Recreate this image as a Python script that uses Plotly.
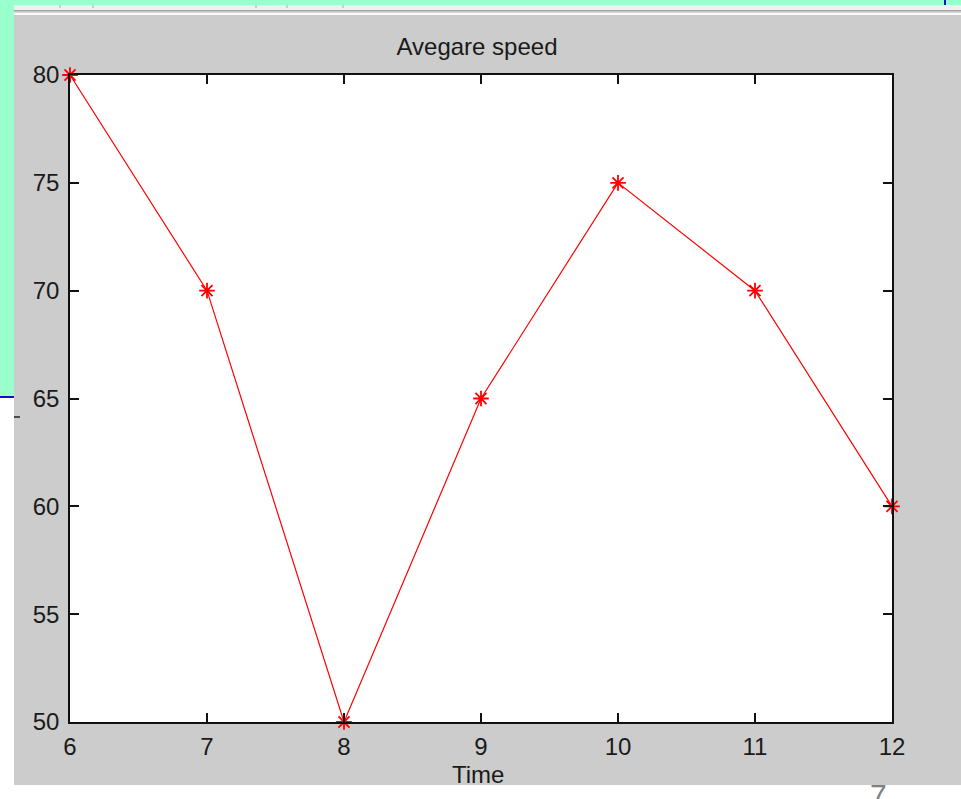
import plotly.graph_objects as go

# ---- data ----
time_vals = [6, 7, 8, 9, 10, 11, 12]
speed_vals = [80, 70, 50, 65, 75, 70, 60]
x_ticks = [6, 7, 8, 9, 10, 11, 12]
y_ticks = [50, 55, 60, 65, 70, 75, 80]
title_text = "Avegare speed"
xlabel_text = "Time"
slide_no = "7"

# ---- layout geometry (pixels) ----
FW, FH = 961, 799
L, R, T, B = 70, 892, 75, 722
W, H = R - L, B - T


def px(x):
    return (x - L) / W


def py(y):
    return (B - y) / H


def rect(x0, y0, x1, y1, color):
    return dict(type="rect", xref="paper", yref="paper",
                x0=px(x0), x1=px(x1), y0=py(y1), y1=py(y0),
                fillcolor=color, line=dict(width=0), layer="below")


def line(x0, y0, x1, y1, color, w=1):
    return dict(type="line", xref="paper", yref="paper",
                x0=px(x0), x1=px(x1), y0=py(y0), y1=py(y1),
                line=dict(color=color, width=w), layer="below")


shapes = [
    rect(0, 397, 14, FH, "#FFFFFF"),
    rect(0, 785, FW, FH, "#FFFFFF"),
    rect(14, 5, FW, 785, "#CCCCCC"),
    rect(14, 5, FW, 10, "#F0F0F0"),
    rect(14, 10, FW, 11.5, "#A0A0A0"),
    rect(14, 11.5, FW, 13, "#D8D8D8"),
    rect(14, 13, FW, 15, "#FAFAFA"),
    rect(L, T, R, B, "#FFFFFF"),
    line(0, 397, 14, 397, "#1010CC", 2),
    line(945, 0, 945, 5, "#1010CC", 2),
    line(14, 417, 20, 417, "#222222", 1.5),
]
for tx in [60, 93, 256, 287, 343]:
    shapes.append(line(tx, 5, tx, 8, "#AAAAAA", 1))

fig = go.Figure()
fig.add_trace(go.Scatter(
    x=time_vals, y=speed_vals, mode="lines+markers",
    line=dict(color="#FF0000", width=1.2),
    marker=dict(symbol="asterisk-open", size=13,
                line=dict(color="#FF0000", width=1.8)),
    cliponaxis=False, showlegend=False,
))

FONT = "Liberation Sans, Arial, sans-serif"
axis_font = dict(family=FONT, size=24, color="#1a1a1a")

fig.update_layout(
    width=FW, height=FH,
    margin=dict(l=L, r=FW - R, t=T, b=FH - B),
    paper_bgcolor="#99FFCC",
    plot_bgcolor="#FFFFFF",
    shapes=shapes,
    title=dict(text=title_text, x=px(477), xref="paper",
               y=1 - 47 / FH, yref="container", xanchor="center", yanchor="middle",
               font=dict(family=FONT, size=24, color="#1a1a1a")),
    xaxis=dict(range=[6, 12], tickvals=x_ticks, ticks="inside", ticklen=9,
               showline=True, mirror="ticks", linecolor="#111111", linewidth=1.5,
               tickcolor="#111111", tickwidth=1.5, showgrid=False, zeroline=False,
               tickfont=axis_font, ticklabelstandoff=2),
    yaxis=dict(range=[50, 80], tickvals=y_ticks, ticks="inside", ticklen=9,
               showline=True, mirror="ticks", linecolor="#111111", linewidth=1.5,
               tickcolor="#111111", tickwidth=1.5, showgrid=False, zeroline=False,
               tickfont=axis_font, ticklabelstandoff=4),
    annotations=[
        dict(text=xlabel_text, xref="paper", yref="paper", x=px(478), y=py(774),
             xanchor="center", yanchor="middle", showarrow=False,
             font=dict(family=FONT, size=24, color="#1a1a1a")),
        dict(text=slide_no, xref="paper", yref="paper", x=px(878), y=py(776),
             xanchor="center", yanchor="top", showarrow=False,
             font=dict(family=FONT, size=30, color="#808080")),
    ],
)

fig.write_html("out.html", config={"displayModeBar": False},
               post_script="document.body.style.margin='0';")
